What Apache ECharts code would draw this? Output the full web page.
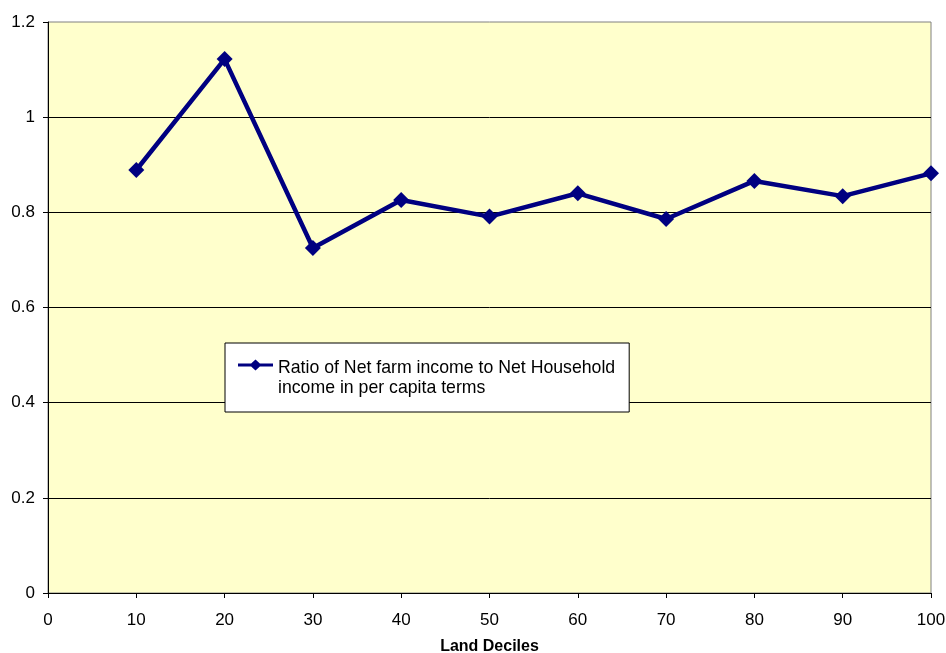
<!DOCTYPE html>
<html>
<head>
<meta charset="utf-8">
<script src="https://cdn.jsdelivr.net/npm/echarts@6/dist/echarts.min.js"></script>
<style>
    html, body { margin: 0; padding: 0; background: #fff; }
    #chart { width: 946px; height: 653px; }
</style>
</head>
<body>
<div id="chart"></div>
<script>
// land deciles and ratio values
var deciles = [10, 20, 30, 40, 50, 60, 70, 80, 90, 100];
var ratio = [0.889, 1.122, 0.725, 0.826, 0.791, 0.840, 0.786, 0.866, 0.834, 0.882];
var seriesName = 'Ratio of Net farm income to Net Household\nincome in per capita terms';

// legend icon: line + diamond on the first text line, tiny corner specks keep the bounds
var legendIcon = 'path://M0,0L0.01,0L0,0.01Z' +
    'M0,5.5L35,5.5L35,8.5L0,8.5Z' +
    'M17.5,1.5L23.5,7L17.5,12.5L11.5,7Z' +
    'M35,40L34.99,40L35,39.99Z';

var points = [];
for (var i = 0; i < deciles.length; i++) {
    points.push([deciles[i], ratio[i]]);
}

var myChart = echarts.init(document.getElementById('chart'));
var option = {
    animation: false,
    backgroundColor: '#ffffff',
    textStyle: {
        fontFamily: 'Liberation Sans, Arial, sans-serif',
        color: '#000'
    },
    grid: {
        left: 48,
        right: 15,
        top: 22,
        bottom: 60,
        outerBoundsMode: 'none',
        containLabel: false,
        show: true,
        backgroundColor: '#FFFFCC',
        borderColor: '#808080',
        borderWidth: 1
    },
    legend: {
        left: 225,
        top: 343,
        orient: 'vertical',
        backgroundColor: '#ffffff',
        borderColor: '#000000',
        borderWidth: 1,
        padding: [15, 14, 14, 13],
        itemWidth: 35,
        itemHeight: 40,
        icon: legendIcon,
        itemStyle: { color: '#000080', borderWidth: 0 },
        textStyle: {
            fontSize: 17.7,
            lineHeight: 20,
            color: '#000'
        },
        data: [seriesName]
    },
    xAxis: {
        type: 'value',
        min: 0,
        max: 100,
        interval: 10,
        name: 'Land Deciles',
        nameLocation: 'middle',
        nameGap: 46,
        nameTextStyle: { fontSize: 16, fontWeight: 'bold', color: '#000' },
        axisLine: { lineStyle: { color: '#000', width: 1 } },
        axisTick: { show: true, inside: false, length: 5, lineStyle: { color: '#000' } },
        axisLabel: { fontSize: 17, color: '#000', margin: 19 },
        splitLine: { show: false }
    },
    yAxis: {
        type: 'value',
        min: 0,
        max: 1.2,
        interval: 0.2,
        axisLine: { show: true, lineStyle: { color: '#000', width: 1 } },
        axisTick: { show: true, inside: false, length: 5, lineStyle: { color: '#000' } },
        axisLabel: { fontSize: 17, color: '#000', margin: 13 },
        splitLine: {
            show: true,
            showMinLine: false,
            showMaxLine: false,
            lineStyle: { color: '#000', width: 1 }
        }
    },
    series: [
        {
            name: seriesName,
            type: 'line',
            data: points,
            symbol: 'diamond',
            symbolSize: 16,
            itemStyle: { color: '#000080' },
            lineStyle: { color: '#000080', width: 4.5 }
        }
    ]
};
myChart.setOption(option);
</script>
</body>
</html>
